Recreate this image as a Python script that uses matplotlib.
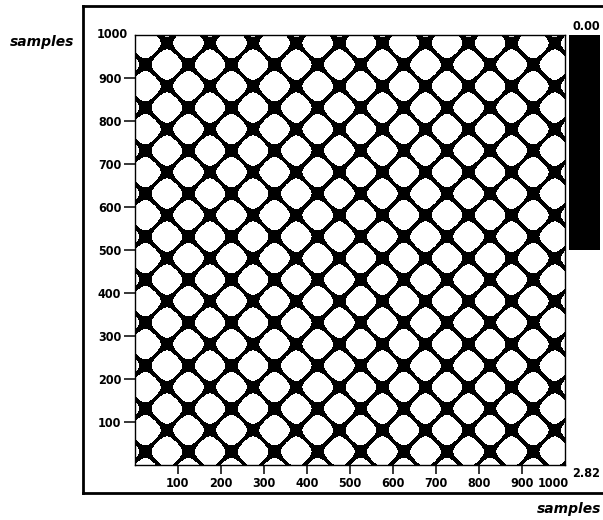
import numpy as np
import matplotlib
matplotlib.use("Agg")
import matplotlib.pyplot as plt
from matplotlib.colors import ListedColormap
from matplotlib.lines import Line2D

# lattice (samples)
n_samples = 1000
period = 100
x_phase = 24
y_phase = 31
edge_level = 0.38       # |cos - cos| below this is drawn black
vmin, vmax = 0.0, 2.82
xticks = [100, 200, 300, 400, 500, 600, 700, 800, 900]
yticks = [100, 200, 300, 400, 500, 600, 700, 800, 900]
axis_label = "samples"

tick_font = dict(family="DejaVu Sans", stretch="condensed", weight="bold", fontsize=9)

s = np.arange(n_samples) + 0.5
X, Y = np.meshgrid(s, s)
diff = np.abs(np.cos(2 * np.pi * (X - x_phase) / period)
              - np.cos(2 * np.pi * (Y - y_phase) / period))
gamma = np.log(0.5) / np.log(edge_level / 2)
field = vmax * (diff / 2) ** gamma

W, H = 603, 520
fig = plt.figure(figsize=(W / 100, H / 100), dpi=100)


def fx(px):
    return px / W


def fy(py):
    return 1 - py / H


ax = fig.add_axes([fx(134.5), fy(465), fx(565) - fx(134.5), fy(35) - fy(465)])
cmap = ListedColormap(["black", "white"])
im = ax.imshow(field, origin="lower", extent=[0, n_samples, 0, n_samples],
               cmap=cmap, vmin=vmin, vmax=vmax, aspect="auto",
               interpolation="antialiased", interpolation_stage="data")
ax.set_xlim(0, n_samples)
ax.set_ylim(0, n_samples)
ax.set_xticks(xticks)
ax.set_yticks(yticks)
ax.set_xticklabels([str(t) for t in xticks], **tick_font)
ax.set_yticklabels([str(t) for t in yticks], **tick_font)
ax.tick_params(axis="y", direction="out", length=8, width=1.1, pad=1.5)
ax.tick_params(axis="x", direction="out", length=6.5, width=1.1, pad=2)
for sp in ax.spines.values():
    sp.set_linewidth(1.0)

ax.text(-0.015, 1.0, str(n_samples), transform=ax.transAxes, ha="right", va="center",
        **tick_font)
ax.text(1.009, -0.042, str(n_samples), transform=ax.transAxes, ha="right", va="center",
        **tick_font)

# colour bar, 0 at the top
cax = fig.add_axes([fx(569), fy(465), fx(600) - fx(569), fy(35) - fy(465)])
cb = fig.colorbar(im, cax=cax)
cb.outline.set_visible(False)
cax.invert_yaxis()
cax.set_yticks([])
cax.text(0.55, 1.004, f"{vmin:.2f}", transform=cax.transAxes, ha="center", va="bottom",
         **tick_font)
cax.text(0.55, -0.005, f"{vmax:.2f}", transform=cax.transAxes, ha="center", va="top",
         **tick_font)

# outer frame (right side runs off the picture)
lw = 2.0
fig.add_artist(Line2D([fx(83), 1.0], [fy(6), fy(6)], color="black", lw=lw))
fig.add_artist(Line2D([fx(83), fx(83)], [fy(6), fy(493)], color="black", lw=lw))
fig.add_artist(Line2D([fx(83), 1.0], [fy(493), fy(493)], color="black", lw=lw))

fig.text(fx(42), fy(42), axis_label, ha="center", va="center",
         fontsize=10, weight="bold", style="italic")
fig.text(fx(537), fy(509), axis_label, ha="left", va="center",
         fontsize=10, weight="bold", style="italic")

fig.savefig("out.png", dpi=100)
